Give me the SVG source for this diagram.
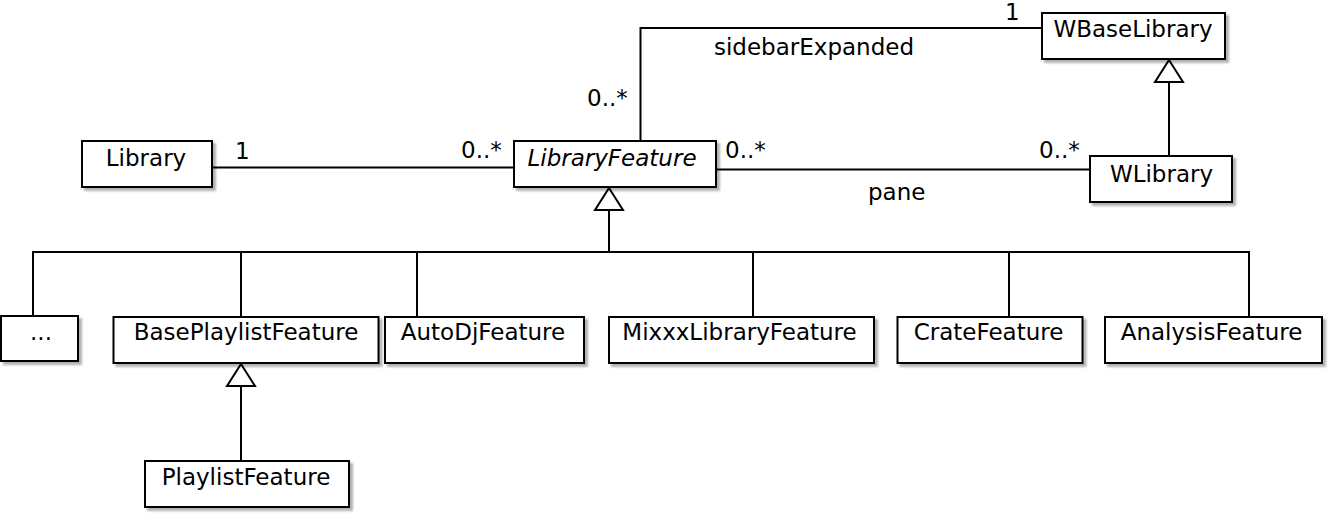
<svg xmlns="http://www.w3.org/2000/svg" width="1329" height="514" viewBox="0 0 1329 514">
<defs>
<filter id="sh" x="-5%" y="-5%" width="115%" height="130%">
<feDropShadow dx="3" dy="3" stdDeviation="1" flood-color="#000" flood-opacity="0.3"/>
</filter>
</defs>
<style>
.box{fill:#fff;stroke:#000;stroke-width:2;filter:url(#sh)}
.t{font-family:"DejaVu Sans","Liberation Sans",sans-serif;font-size:23px;fill:#000}
.c{text-anchor:middle}
.i{font-style:italic}
.ln{fill:none;stroke:#000;stroke-width:2}
.tri{fill:#fff;stroke:#000;stroke-width:2;stroke-linejoin:miter}
</style>
<rect width="1329" height="514" fill="#fff"/>
<g id="connectors">
<line class="ln" x1="212" y1="167.5" x2="514" y2="167.5"/>
<line class="ln" x1="716" y1="169.5" x2="1090" y2="169.5"/>
<polyline class="ln" points="640.5,141 640.5,28 1042,28"/>
<line class="ln" x1="1169" y1="82" x2="1169" y2="156"/>
<polygon class="tri" points="1169,60 1155,82 1183,82"/>
<line class="ln" x1="609" y1="210" x2="609" y2="252"/>
<polyline class="ln" points="33,317 33,252 1249,252 1249,317"/>
<line class="ln" x1="241" y1="252" x2="241" y2="317"/>
<line class="ln" x1="417" y1="252" x2="417" y2="317"/>
<line class="ln" x1="753" y1="252" x2="753" y2="317"/>
<line class="ln" x1="1009" y1="252" x2="1009" y2="317"/>
<polygon class="tri" points="609,188 595,210 623,210"/>
<line class="ln" x1="241" y1="386" x2="241" y2="461"/>
<polygon class="tri" points="241,364 227,386 255,386"/>
<text class="t" x="235" y="158.5">1</text>
<text class="t" x="461" y="158">0..*</text>
<text class="t" x="587" y="106">0..*</text>
<text class="t" x="1005" y="19.5">1</text>
<text class="t" x="714" y="55">sidebarExpanded</text>
<text class="t" x="725" y="158">0..*</text>
<text class="t" x="1039" y="158">0..*</text>
<text class="t" x="868" y="200">pane</text>
</g>
<g id="Library"><rect class="box" x="82" y="141" width="130" height="46"/><text class="t c" x="146" y="165.5">Library</text></g>
<g id="LibraryFeature"><rect class="box" x="514" y="141" width="202" height="46"/><text class="t c i" x="612" y="165.5">LibraryFeature</text></g>
<g id="WBaseLibrary"><rect class="box" x="1042" y="13" width="183" height="46"/><text class="t c" x="1133" y="37">WBaseLibrary</text></g>
<g id="WLibrary"><rect class="box" x="1090" y="156" width="142" height="46"/><text class="t c" x="1161.5" y="181.5">WLibrary</text></g>
<g id="Ellipsis"><rect class="box" x="1" y="316" width="77" height="45"/><text class="t c" x="41" y="340">...</text></g>
<g id="BasePlaylistFeature"><rect class="box" x="113.5" y="317" width="265" height="46"/><text class="t c" x="246" y="340">BasePlaylistFeature</text></g>
<g id="AutoDjFeature"><rect class="box" x="385" y="317" width="199" height="46"/><text class="t c" x="483" y="340">AutoDjFeature</text></g>
<g id="MixxxLibraryFeature"><rect class="box" x="609" y="317" width="265" height="46"/><text class="t c" x="739.5" y="340">MixxxLibraryFeature</text></g>
<g id="CrateFeature"><rect class="box" x="897.5" y="317" width="185" height="46"/><text class="t c" x="988.5" y="340">CrateFeature</text></g>
<g id="AnalysisFeature"><rect class="box" x="1105" y="317" width="217" height="46"/><text class="t c" x="1211.5" y="340">AnalysisFeature</text></g>
<g id="PlaylistFeature"><rect class="box" x="145" y="461" width="204" height="46"/><text class="t c" x="246" y="485">PlaylistFeature</text></g>
</svg>
